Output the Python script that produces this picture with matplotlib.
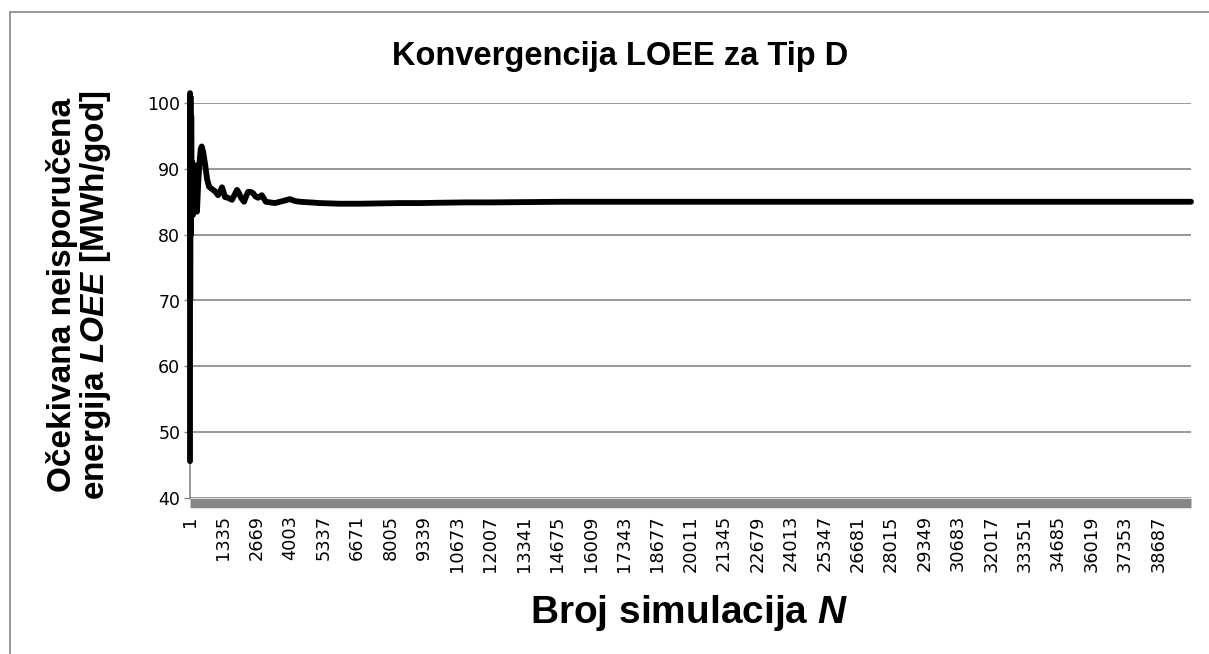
import matplotlib
matplotlib.use("Agg")
import matplotlib.pyplot as plt
from matplotlib.patches import Rectangle

# Running estimate of LOEE versus number of Monte Carlo simulations
n_sim = [1, 3, 10, 20, 35, 50, 70, 90, 120, 150, 190, 230, 280, 330, 380,
         430, 470, 530, 600, 680, 760, 850, 920, 1000, 1120, 1200, 1280,
         1400, 1520, 1680, 1800, 1880, 1960, 2040, 2160, 2240, 2320, 2420,
         2520, 2620, 2720, 2870, 2950, 3030, 3200, 3390, 3600, 3800, 3990,
         4200, 4390, 4800, 5190, 5600, 5990, 6800, 7590, 8400, 9200, 10000,
         11000, 12000, 13500, 15000, 17000, 19000, 21000, 23000, 25000,
         27000, 29000, 31000, 33000, 35000, 37000, 39000, 40000]
loee = [45.6, 101.5, 70.0, 101.0, 80.0, 98.0, 84.0, 91.0, 83.0, 90.0, 84.0,
        90.5, 83.5, 88.0, 91.0, 93.0, 93.4, 92.5, 90.8, 88.5, 87.3, 87.0,
        86.8, 86.6, 86.0, 86.5, 87.2, 85.7, 85.6, 85.3, 86.2, 86.8, 86.3,
        85.6, 85.0, 85.8, 86.5, 86.5, 86.3, 85.8, 85.6, 86.0, 85.5, 85.0,
        84.9, 84.8, 85.0, 85.2, 85.4, 85.1, 85.0, 84.9, 84.8, 84.75, 84.7,
        84.7, 84.75, 84.8, 84.8, 84.85, 84.9, 84.9, 84.95, 85.0, 85.0, 85.0,
        85.0, 85.0, 85.0, 85.0, 85.0, 85.0, 85.0, 85.0, 85.0, 85.0, 85.0]

n_total = 40000
tick_step = 1334
tick_values = list(range(1, n_total, tick_step))[:30]
y_ticks = [40, 50, 60, 70, 80, 90, 100]

title = "Konvergencija LOEE za Tip D"
ylabel = "Očekivana neisporučena\nenergija $\\mathbfit{LOEE}$ [MWh/god]"
xlabel = "Broj simulacija $\\mathbfit{N}$"

plt.rcParams["font.family"] = ["Liberation Sans", "DejaVu Sans"]
plt.rcParams["mathtext.fontset"] = "custom"
plt.rcParams["mathtext.rm"] = "Liberation Sans:bold"
plt.rcParams["mathtext.bfit"] = "Liberation Sans:bold:italic"

W, H = 1209, 654
fig = plt.figure(figsize=(W / 100, H / 100), dpi=100)
ax = fig.add_axes([190 / W, 1 - 498 / H, (1191 - 190) / W, (498 - 103) / H])

grey = "#868686"

# spines first: moving a spine resets its axis ticks
for side in ("top", "right"):
    ax.spines[side].set_visible(False)
ax.spines["left"].set_color(grey)
ax.spines["left"].set_linewidth(1.2)
# dense category tick marks merge into a grey band under the plot area
ax.spines["bottom"].set_position(("outward", 3.4))
ax.spines["bottom"].set_color(grey)
ax.spines["bottom"].set_linewidth(6.8)
ax.spines["bottom"].set_capstyle("butt")

# categories are centred in their slots, like a category axis
x_pos = [n - 0.5 for n in n_sim]
ax.plot(x_pos, loee, color="black", lw=4.2, solid_joinstyle="round",
        solid_capstyle="round", zorder=3, clip_on=False)

ax.set_xlim(0, n_total)
ax.set_ylim(40, 100)
ax.set_yticks(y_ticks)
ax.set_yticklabels([str(v) for v in y_ticks], fontsize=12.5,
                   fontfamily="DejaVu Sans")
ax.yaxis.grid(True, color=grey, lw=1.2)
ax.set_axisbelow(True)
ax.tick_params(axis="y", length=4, width=1, color=grey, pad=3)

ax.set_xticks([t - 0.5 for t in tick_values])
ax.set_xticklabels([str(t) for t in tick_values], rotation=90,
                   fontsize=12.8, fontfamily="DejaVu Sans", va="top",
                   ha="center")
ax.tick_params(axis="x", length=0, pad=9)

fig.text(620 / W, 1 - 57 / H, title, ha="center", va="center",
         fontsize=23.5, fontweight="bold")
fig.text(80 / W, 1 - 295 / H, ylabel, rotation=90, ha="center",
         va="center", fontsize=24, fontweight="bold", linespacing=1.0,
         multialignment="center")
fig.text(689 / W, 1 - 613 / H, xlabel, ha="center", va="center",
         fontsize=28, fontweight="bold")

# chart frame
fig.add_artist(Rectangle((10 / W, -0.2), 1.2, 1 - 12 / H + 0.2,
                         transform=fig.transFigure, fill=False,
                         ec=grey, lw=1.2))

fig.savefig("out.png", dpi=100)
